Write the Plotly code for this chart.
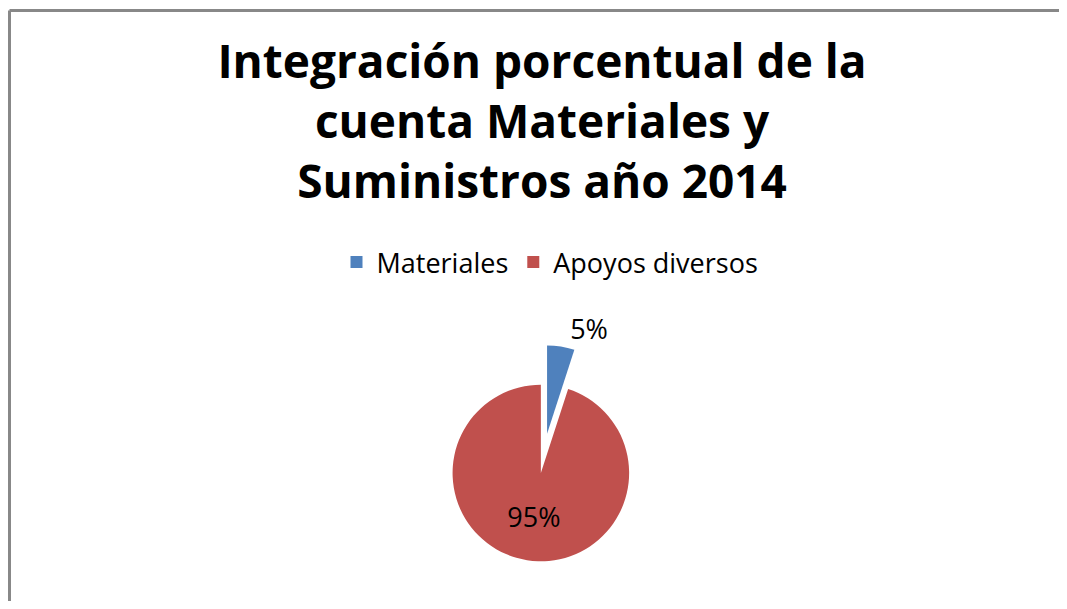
import plotly.graph_objects as go

categories = ["Materiales", "Apoyos diversos"]
values = [5, 95]
colors = ["#4F81BD", "#C0504D"]
title_text = "Integración porcentual de la<br>cuenta Materiales y<br>Suministros año 2014"

# page body adds an 8px margin, so the figure is sized to fit the window
W, H = 1051, 593

fig = go.Figure(go.Pie(
    labels=categories,
    values=values,
    sort=False,
    direction="clockwise",
    rotation=0,
    pull=[0.45, 0],
    marker=dict(colors=colors, line=dict(width=0)),
    textinfo="percent",
    texttemplate="%{percent:.0%}",
    textposition=["outside", "inside"],
    insidetextfont=dict(family="Open Sans", size=27, color="black"),
    outsidetextfont=dict(family="Open Sans", size=27, color="black"),
    domain=dict(x=[0.207, 0.807], y=[0.0, 256 / H]),
    showlegend=True,
    hoverinfo="label+percent",
))

border = dict(color="#888888", width=3)

fig.update_layout(
    width=W, height=H,
    margin=dict(l=0, r=0, t=0, b=0, autoexpand=False),
    paper_bgcolor="white",
    plot_bgcolor="white",
    title=dict(
        text=title_text,
        x=534 / W, xanchor="center",
        y=1 - 70 / H, yanchor="top",
        font=dict(family="Open Sans", size=46, color="black", weight="bold"),
    ),
    legend=dict(
        orientation="h",
        x=542 / W, xanchor="center",
        y=1 - 230 / H, yanchor="top",
        font=dict(family="Open Sans", size=27, color="black"),
        itemwidth=30,
    ),
    shapes=[
        dict(type="line", xref="paper", yref="paper",
             x0=1.5 / W, x1=1.5, y0=1 - 2.5 / H, y1=1 - 2.5 / H, line=border),
        dict(type="line", xref="paper", yref="paper",
             x0=1.5 / W, x1=1.5 / W, y0=-0.5, y1=1 - 2.5 / H, line=border),
    ],
)

fig.write_html("out.html")
